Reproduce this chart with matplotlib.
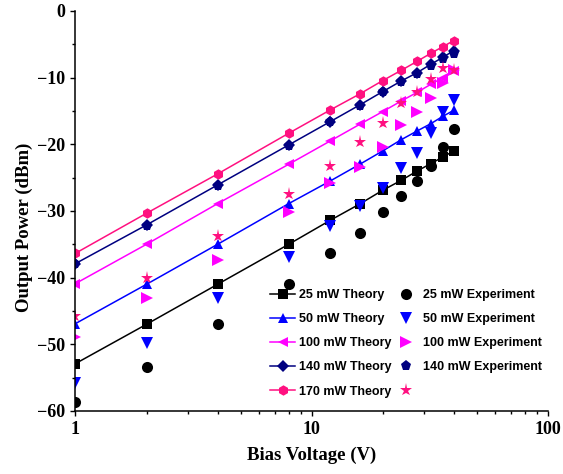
import matplotlib
matplotlib.use('Agg')
import matplotlib.pyplot as plt
from matplotlib.ticker import MultipleLocator, LogLocator, NullFormatter, FixedLocator, FixedFormatter

# Bias voltage (V) and output power (dBm)
V = [1, 2, 4, 8, 12, 16, 20, 24, 28, 32, 36, 40]

t25  = [-52.9, -47.0, -41.0, -35.0, -31.4, -28.95, -26.9, -25.4, -24.0, -22.9, -21.9, -21.0]
t50  = [-46.9, -41.0, -35.0, -28.9, -25.5, -23.0, -21.0, -19.3, -18.0, -16.9, -15.8, -14.9]
t100 = [-40.9, -35.0, -28.9, -23.0, -19.5, -17.0, -15.1, -13.5, -12.2, -11.0, -10.0, -9.0]
t140 = [-37.9, -32.1, -26.1, -20.1, -16.6, -14.1, -12.1, -10.5, -9.25, -8.0, -6.95, -5.95]
t170 = [-36.35, -30.35, -24.45, -18.35, -14.85, -12.45, -10.45, -8.9, -7.55, -6.35, -5.35, -4.45]

e25  = [-58.6, -53.45, -47.0, -41.0, -36.25, -33.35, -30.2, -27.7, -25.5, -23.2, -20.35, -17.75]
e50  = [-55.85, -49.75, -43.1, -36.85, -32.25, -29.25, -26.6, -23.5, -21.35, -18.35, -15.1, -13.4]
e100 = [-48.85, -43.1, -37.35, -30.2, -25.75, -23.35, -20.4, -17.1, -15.2, -13.1, -10.75, -8.85]
e140 = [-38.0, -32.2, -26.2, -20.2, -16.7, -14.2, -12.2, -10.6, -9.4, -8.2, -7.2, -6.5]
e170 = [-45.8, -40.0, -33.75, -27.5, -23.25, -19.6, -16.75, -13.85, -12.1, -10.25, -8.6, -8.9]

theory_labels = ['25 mW Theory', '50 mW Theory', '100 mW Theory', '140 mW Theory', '170 mW Theory']
exp_labels = ['25 mW Experiment', '50 mW Experiment', '100 mW Experiment', '140 mW Experiment', '']

colors = ['black', '#0000FF', '#FF00FF', '#000080', '#FF1080']
theory_markers = ['s', '^', '<', 'D', 'h']
exp_markers = ['o', 'v', '>', 'p', '*']
theory = [t25, t50, t100, t140, t170]
exper = [e25, e50, e100, e140, e170]

fig = plt.figure(figsize=(5.63, 4.74), dpi=100)
ax = fig.add_axes([0.134, 0.133, 0.839, 0.844])

th_handles = []
ex_handles = []
for i in range(5):
    ms = 6.5 if theory_markers[i] == 'D' else 7.5
    h1, = ax.plot(V, theory[i], color=colors[i], marker=theory_markers[i], markersize=ms,
                  linewidth=1.1, markeredgewidth=0)
    ems = 9.5 if exp_markers[i] == '*' else 8
    h2, = ax.plot(V, exper[i], color=colors[i], marker=exp_markers[i], markersize=ems,
                  linestyle='none', markeredgewidth=0)
    th_handles.append(h1)
    ex_handles.append(h2)

ax.set_xscale('log')
ax.set_xlim(1, 100)
ax.set_ylim(-60, 0)

ax.xaxis.set_major_locator(FixedLocator([1, 10, 100]))
ax.xaxis.set_major_formatter(FixedFormatter(['1', '10', '100']))
ax.xaxis.set_minor_locator(LogLocator(base=10, subs=range(2, 10)))
ax.xaxis.set_minor_formatter(NullFormatter())
ax.yaxis.set_major_locator(MultipleLocator(10))
ax.yaxis.set_minor_locator(MultipleLocator(5))

for s in ['top', 'right']:
    ax.spines[s].set_visible(False)
for s in ['left', 'bottom']:
    ax.spines[s].set_linewidth(1.1)

ax.tick_params(which='major', direction='out', length=3.8, width=1.0)
ax.tick_params(which='minor', direction='out', length=2.4, width=1.0)

serif = {'family': 'Liberation Serif', 'weight': 'bold', 'size': 13.5}
for lab in ax.get_xticklabels() + ax.get_yticklabels():
    lab.set_fontfamily('Liberation Serif')
    lab.set_fontweight('bold')
    lab.set_fontsize(13)

ax.set_xlabel('Bias Voltage (V)', fontdict=serif, labelpad=6)
ax.set_ylabel('Output Power (dBm)', fontdict=serif, labelpad=4)
ax.yaxis.set_label_coords(-0.09, 0.46)

leg = ax.legend(th_handles + ex_handles, theory_labels + exp_labels, ncol=2,
                loc='upper left', bbox_to_anchor=(270 / 563.0, 1 - 289 / 474.0),
                bbox_transform=fig.transFigure, frameon=False, borderpad=0,
                borderaxespad=0, handlelength=2.0, handletextpad=0.3,
                columnspacing=0.2, labelspacing=0.97,
                prop={'family': 'Liberation Sans', 'weight': 'bold', 'size': 9})

plt.savefig('out.png', dpi=100)
plt.close()
